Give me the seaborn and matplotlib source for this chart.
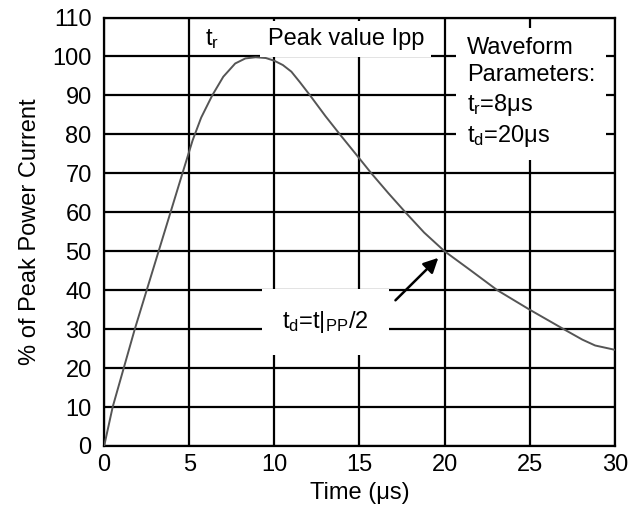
import pandas as pd
import numpy as np
import matplotlib.pyplot as plt
import seaborn as sns

# values
time_us = [0, 0.5, 1.15, 1.8, 2.5, 3.2, 3.9, 4.6, 5.2, 5.7, 6.35, 7.0, 7.7, 8.3, 8.9,
           9.5, 10, 10.5, 11, 11.5, 12.1, 13.0, 13.85, 15, 15.7, 16.7, 17.7, 18.8, 20,
           21.5, 23.1, 25, 27, 28.1, 28.85, 30]
pct_peak = [0, 10, 20, 30, 40, 50, 60, 70, 78.5, 84.3, 90, 94.8, 98.2, 99.5, 99.8,
            99.6, 98.9, 97.8, 96.1, 93.4, 90, 84.7, 80, 73.8, 70, 64.9, 60, 54.8, 50,
            45.2, 40, 35, 30, 27.3, 25.8, 24.7]
x_ticks = [0, 5, 10, 15, 20, 25, 30]
y_ticks = [0, 10, 20, 30, 40, 50, 60, 70, 80, 90, 100, 110]

df = pd.DataFrame({"time": time_us, "pct": pct_peak})

sns.set_style("white")
plt.rcParams['font.family'] = ['Liberation Sans', 'DejaVu Sans']
plt.rcParams['mathtext.fontset'] = 'custom'
plt.rcParams['mathtext.rm'] = 'Liberation Sans'
plt.rcParams['mathtext.it'] = 'Liberation Sans'
plt.rcParams['text.color'] = 'black'
plt.rcParams['axes.labelcolor'] = 'black'

fig = plt.figure(figsize=(6.39, 5.15), dpi=100)
ax = fig.add_axes([0.163, 0.134, 0.799, 0.832])

sns.lineplot(data=df, x="time", y="pct", color="#555555", linewidth=1.4, ax=ax, zorder=3)

ax.set_xlim(0, 30)
ax.set_ylim(0, 110)
ax.set_xticks(x_ticks)
ax.set_yticks(y_ticks)
ax.grid(True, color="black", linewidth=1.6)
ax.set_axisbelow(True)
for s in ax.spines.values():
    s.set_color("black")
    s.set_linewidth(1.6)
ax.tick_params(length=0, labelsize=17, colors="black")
ax.tick_params(axis="x", pad=6)
ax.tick_params(axis="y", pad=9)

ax.set_xlabel("Time (μs)", fontsize=17, labelpad=4)
ax.set_ylabel("% of Peak Power Current", fontsize=17, labelpad=8)

box = dict(facecolor="white", edgecolor="none", boxstyle="square,pad=0.3")

ax.text(5.9, 104.5, r"$\mathregular{t_r}$", fontsize=17, va="center", ha="left", zorder=4)
ax.text(9.6, 104.5, "Peak value Ipp", fontsize=17, va="center", ha="left",
        bbox=box, zorder=4)

ax.text(21.3, 105.0,
        "Waveform\nParameters:\n" + r"$\mathregular{t_r}$=8μs" + "\n" + r"$\mathregular{t_d}$=20μs",
        fontsize=17, va="top", ha="left", linespacing=1.3,
        bbox=dict(facecolor="white", edgecolor="none", boxstyle="square,pad=0.45"), zorder=4)

ax.text(13.0, 31.8, r"$\mathregular{t_d}$=t|$\mathregular{_{PP}}$/2", fontsize=17,
        va="center", ha="center",
        bbox=dict(facecolor="white", edgecolor="none", boxstyle="square,pad=0.85"), zorder=4)

ax.annotate("", xy=(19.75, 48.8), xytext=(17.0, 36.9),
            arrowprops=dict(arrowstyle="-|>", color="black", lw=1.8, mutation_scale=22),
            zorder=5)

fig.savefig("out.png", dpi=100)
